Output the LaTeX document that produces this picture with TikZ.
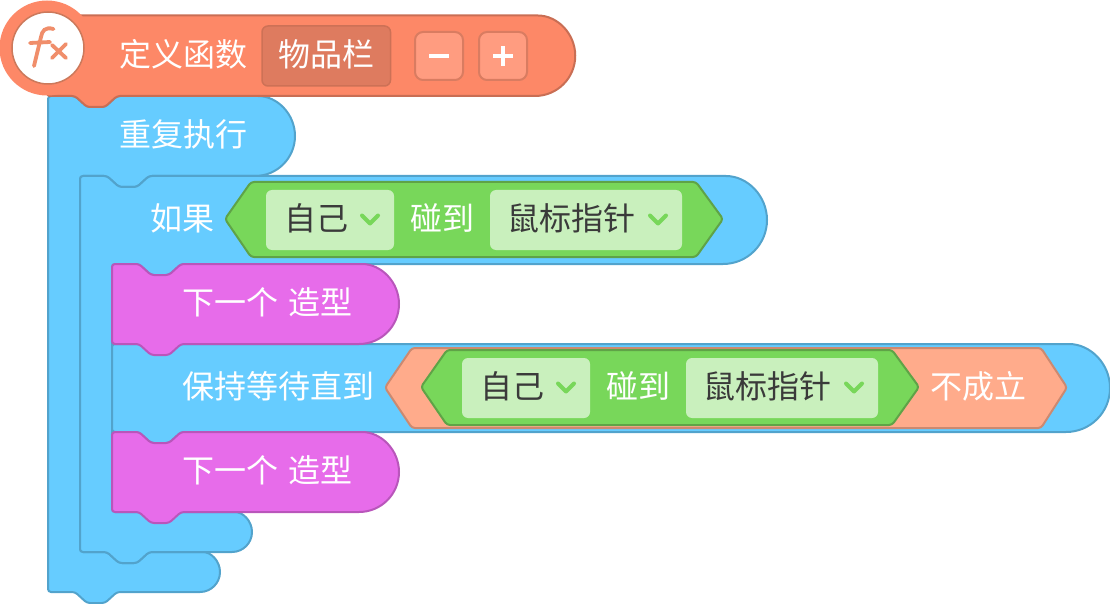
\documentclass[tikz,border=0pt]{standalone}
\usepackage{fontspec}
\setmainfont{Noto Sans CJK SC}
\usetikzlibrary{positioning}
\definecolor{loopfill}{HTML}{66CCFF}
\definecolor{loopline}{HTML}{52A3CC}
\definecolor{funcfill}{HTML}{FD8867}
\definecolor{funcline}{HTML}{C96E54}
\definecolor{fielddark}{HTML}{DE7B5F}
\definecolor{btnfill}{HTML}{FF9C80}
\definecolor{iconline}{HTML}{F08E6B}
\definecolor{lookfill}{HTML}{E76CEA}
\definecolor{lookline}{HTML}{B956BB}
\definecolor{sensefill}{HTML}{78D75A}
\definecolor{senseline}{HTML}{5FA347}
\definecolor{fieldlight}{HTML}{C9F0BD}
\definecolor{notfill}{HTML}{FFAB8B}
\definecolor{notline}{HTML}{CC8970}
\definecolor{ink}{HTML}{3A3A3A}
\tikzset{
  block/.style={line width=2pt,rounded corners=3pt,line join=round},
  lbl/.style={font=\fontsize{32}{36}\selectfont,text=white,anchor=base west,inner sep=0pt,xshift=-1pt},
  lbldark/.style={lbl,text=ink},
  chevron/.style={sensefill,line width=4pt,line cap=round,line join=round},
  iconstroke/.style={iconline,line width=3.8pt,line cap=round},
}
\def\notchR{-- ++(12,11) -- ++(18,0) -- ++(12,-11)}
\def\notchL{-- ++(-12,11) -- ++(-18,0) -- ++(-12,-11)}
\begin{document}
\begin{tikzpicture}[x=1pt,y=-1pt]
  \useasboundingbox (0,0) rectangle (1110,604);
  \draw[block,fill=loopfill,draw=loopline] (48,96) -- (75,96) \notchR -- (255,96)
    {[rounded corners=0pt] arc[start angle=-90,end angle=90,radius=40]}
    -- (149,176) \notchL -- (80,176) -- (80,552) -- (107,552) \notchR -- (200,552)
    {[rounded corners=0pt] arc[start angle=-90,end angle=90,radius=20]}
    -- (117,592) \notchL -- (48,592) -- cycle;
  \draw[block,fill=loopfill,draw=loopline] (80,176) -- (107,176) \notchR -- (723,176)
    {[rounded corners=0pt] arc[start angle=-90,end angle=90,radius=44]}
    -- (181,264) \notchL -- (112,264) -- (112,512) -- (232,512)
    {[rounded corners=0pt] arc[start angle=-90,end angle=90,radius=20]}
    -- (149,552) \notchL -- (80,552) -- cycle;
  \draw[block,fill=loopfill,draw=loopline] (112,344) -- (1066,344)
    {[rounded corners=0pt] arc[start angle=-90,end angle=90,radius=44]}
    -- (181,432) \notchL -- (112,432) -- cycle;
  \foreach \y in {264,432}{
    \draw[block,fill=lookfill,draw=lookline] (112,\y) -- (139,\y) \notchR -- (359,\y)
      {[rounded corners=0pt] arc[start angle=-90,end angle=90,radius=40]}
      -- (181,\y+80) \notchL -- (112,\y+80) -- cycle;
  }
  \draw[block,fill=notfill,draw=notline] (385,387.5) -- (412,348) -- (1041,348) -- (1067,387.5) -- (1041,428) -- (412,428) -- cycle;
  \foreach \dx/\dy/\id in {0/0/a,196/168/b}{
    \begin{scope}[shift={(\dx,\dy)}]
      \draw[block,fill=sensefill,draw=senseline] (225,219) -- (251,182) -- (696,182) -- (723,219) -- (696,257) -- (251,257) -- cycle;
      \fill[fieldlight,rounded corners=6pt] (266,190) rectangle (394,250);
      \fill[fieldlight,rounded corners=6pt] (490,190) rectangle (682,250);
      \draw[chevron] (362,215.5) -- (370,223.5) -- (378,215.5);
      \draw[chevron] (650,215.5) -- (658,223.5) -- (666,215.5);
      \node[lbldark] (self\id) at (285,230.5) {自己};
      \node[lbl] (touch\id) at (411,230.5) {碰到};
      \node[lbldark] (mouse\id) at (508,230.5) {鼠标指针};
    \end{scope}
  }
  \draw[block,fill=funcfill,draw=funcline] (47,15.5) -- (535,15.5)
    {[rounded corners=0pt] arc[start angle=-90,end angle=90,radius=40.25]}
    -- (117,96) \notchL -- (47,96) -- cycle;
  \fill[funcfill] (47,48) circle (47.5);
  \draw[fill=white,draw=iconline!85!black,line width=1.5pt] (48,48) circle (36);
  \draw[iconstroke] (53.5,29) .. controls (45,26.5) and (42,31) .. (41,37) -- (34,66);
  \draw[iconstroke] (30,43) -- (50,42);
  \draw[iconstroke] (52,45) -- (66,58);
  \draw[iconstroke] (66,44) -- (52,58);
  \draw[fill=fielddark,draw=funcline!80!fielddark,line width=1.5pt,rounded corners=6pt] (262,26) rectangle (390.5,86);
  \draw[fill=btnfill,draw=funcline!70!btnfill,line width=2pt,rounded corners=8pt] (415,32) rectangle (463,80);
  \draw[fill=btnfill,draw=funcline!70!btnfill,line width=2pt,rounded corners=8pt] (479,32) rectangle (527,80);
  \draw[white,line width=4.5pt] (429,56) -- (449,56);
  \draw[white,line width=4.5pt] (493,56) -- (513,56);
  \draw[white,line width=4.5pt] (503,46) -- (503,66);
  \node[lbl] (define) at (120,66.5) {定义函数};
  \node[lbl] (inventory) at (279,66.5) {物品栏};
  \node[lbl] (repeat) at (120,146.5) {重复执行};
  \node[lbl] (ifword) at (151,230.5) {如果};
  \node[lbl] (next1) at (183,314.5) {下一个\hspace{10pt}造型};
  \node[lbl] (waituntil) at (183,398.5) {保持等待直到};
  \node[lbl] (notword) at (931,398.5) {不成立};
  \node[lbl] (next2) at (183,482.5) {下一个\hspace{10pt}造型};
\end{tikzpicture}
\end{document}
